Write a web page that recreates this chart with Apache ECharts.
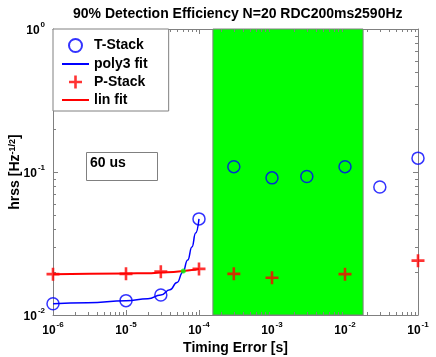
<!DOCTYPE html>
<html>
<head>
<meta charset="utf-8">
<script src="https://cdn.jsdelivr.net/npm/echarts@6/dist/echarts.min.js"></script>
<style>
  html, body { margin: 0; padding: 0; background: #fff; }
  #chart { width: 436px; height: 357px; }
</style>
</head>
<body>
<div id="chart"></div>
<script>
// timing error [s] and hrss values
const tStackX = [1e-6, 1e-5, 3e-5, 1e-4, 3e-4, 1e-3, 3e-3, 1e-2, 3e-2, 1e-1]
const tStackY = [0.0120, 0.0126, 0.0138, 0.047, 0.109, 0.091, 0.093, 0.109, 0.0785, 0.125]
const pStackX = [1e-6, 1e-5, 3e-5, 1e-4, 3e-4, 1e-3, 1e-2, 1e-1]
const pStackY = [0.0193, 0.0194, 0.0201, 0.0210, 0.0194, 0.0182, 0.0193, 0.0240]
// fit curves, sampled along the drawn lines
const polyX = [1e-6, 3e-6, 1e-5, 2e-5, 3e-5, 4e-5, 5e-5, 6e-5, 7e-5, 8e-5, 9e-5, 1e-4]
const polyY = [0.0120, 0.0122, 0.0126, 0.0130, 0.0138, 0.0150, 0.0169, 0.0199, 0.0242, 0.0299, 0.0374, 0.047]
const linX = [1e-6, 1e-5, 2e-5, 3e-5, 4.5e-5, 6.1e-5, 8e-5, 1e-4]
const linY = [0.0193, 0.0195, 0.0196, 0.0198, 0.0200, 0.0203, 0.0206, 0.0210]
// crossing of the two fits (60 us)
const crossX = [6.1e-5]
const crossY = [0.0203]
// green band
const bandX = [1.55e-4, 1.77e-2]
// axes
const xTicks = [1e-6, 1e-5, 1e-4, 1e-3, 1e-2, 1e-1]
const yTicks = [1e-2, 1e-1, 1]

const FONT = '"Liberation Sans", Arial, sans-serif'
const AX = '#808080'
const plusPath = 'path://M4,0h2v4h4v2h-4v4h-2v-4h-4v-2h4z'
const linePath = 'path://M0,0H27V2H0Z'

const pairs = (xs, ys) => xs.map((x, i) => [x, ys[i]])

// minor ticks 2..9 per decade
const minorTicks = []
for (let d = -6; d < -1; d++) {
  for (let k = 2; k <= 9; k++) minorTicks.push(['x', k * Math.pow(10, d)])
}
for (let d = -2; d < 0; d++) {
  for (let k = 2; k <= 9; k++) minorTicks.push(['y', k * Math.pow(10, d)])
}

const supLabel = v => {
  const e = Math.round(Math.log10(v))
  return '{b|10}{s|' + e + '}'
}
const richTick = {
  b: { fontSize: 12, fontWeight: 'bold', fontFamily: FONT, color: '#000', lineHeight: 16, verticalAlign: 'bottom' },
  s: { fontSize: 8, fontWeight: 'bold', fontFamily: FONT, color: '#000', verticalAlign: 'top', padding: [0, 0, 0, 1] }
}

const chart = echarts.init(document.getElementById('chart'))

const baseX = {
  type: 'log',
  logBase: 10,
  min: xTicks[0],
  max: xTicks[xTicks.length - 1],
  axisLine: { show: true, lineStyle: { color: AX, width: 1 } },
  axisTick: { show: true, inside: true, length: 5, lineStyle: { color: AX } },
  splitLine: { show: false },
  minorTick: { show: false },
  minorSplitLine: { show: false }
}
const baseY = {
  type: 'log',
  logBase: 10,
  min: yTicks[0],
  max: yTicks[yTicks.length - 1],
  axisLine: { show: true, lineStyle: { color: AX, width: 1 } },
  axisTick: { show: true, inside: true, length: 5, lineStyle: { color: AX } },
  splitLine: { show: false },
  minorTick: { show: false },
  minorSplitLine: { show: false }
}

chart.setOption({
  animation: false,
  backgroundColor: '#fff',
  title: {
    text: '90% Detection Efficiency N=20 RDC200ms2590Hz',
    left: 73,
    top: 7,
    padding: 0,
    textStyle: { fontFamily: FONT, fontSize: 14, fontWeight: 'bold', color: '#000' }
  },
  grid: { left: 53, top: 29, right: 18, bottom: 42, containLabel: false, outerBoundsMode: 'none' },
  legend: {
    left: 53,
    top: 29,
    orient: 'vertical',
    selectedMode: false,
    backgroundColor: '#fff',
    borderColor: AX,
    borderWidth: 1,
    padding: [9, 21, 4, 9],
    itemWidth: 27,
    itemHeight: 13,
    itemGap: 4,
    itemTextGap: 3,
    textStyle: { fontFamily: FONT, fontSize: 14, fontWeight: 'bold', color: '#000' },
    data: [
      { name: 'T-Stack', icon: 'circle' },
      { name: 'poly3 fit', icon: linePath },
      { name: 'P-Stack', icon: plusPath },
      { name: 'lin fit', icon: linePath }
    ]
  },
  graphic: [
    {
      type: 'rect',
      left: 86, top: 152,
      shape: { width: 71, height: 28 },
      style: { fill: '#fff', stroke: AX, lineWidth: 1 },
      z: 10
    },
    {
      type: 'text',
      left: 90, top: 156,
      style: { text: '60 us', fontFamily: FONT, fontSize: 14, fontWeight: 'bold', fill: '#000' },
      z: 11
    }
  ],
  xAxis: [
    Object.assign({}, baseX, {
      position: 'bottom',
      name: 'Timing Error [s]',
      nameLocation: 'middle',
      nameGap: 26,
      nameMoveOverlap: false,
      nameTextStyle: { fontFamily: FONT, fontSize: 14, fontWeight: 'bold', color: '#000' },
      axisLabel: { margin: 6, formatter: supLabel, rich: richTick }
    }),
    Object.assign({}, baseX, { position: 'top', axisLabel: { show: false } })
  ],
  yAxis: [
    Object.assign({}, baseY, {
      position: 'left',
      name: 'hrss [Hz{s|-1/2}]',
      nameLocation: 'middle',
      nameRotate: 90,
      nameGap: 31,
      nameMoveOverlap: false,
      nameTextStyle: {
        fontFamily: FONT, fontSize: 14, fontWeight: 'bold', color: '#000',
        rich: {
          s: { fontSize: 9, fontWeight: 'bold', fontFamily: FONT, color: '#000', verticalAlign: 'top' }
        }
      },
      axisLabel: { margin: 8, formatter: supLabel, rich: richTick }
    }),
    Object.assign({}, baseY, { position: 'right', axisLabel: { show: false } })
  ],
  series: [
    {
      name: 'band',
      type: 'line',
      data: [],
      z: 1,
      markArea: {
        silent: true,
        itemStyle: { color: '#00ff00', opacity: 1, borderColor: AX, borderWidth: 1 },
        data: [[{ xAxis: bandX[0] }, { xAxis: bandX[1] }]]
      }
    },
    {
      name: 'minor',
      type: 'custom',
      z: 3,
      silent: true,
      data: minorTicks.map(t => t[0] === 'x' ? [t[1], 0.1, 0] : [1e-3, t[1], 1]),
      renderItem(params, api) {
        const cs = params.coordSys
        const isY = api.value(2) === 1
        const p = api.coord([api.value(0), api.value(1)])
        const L = 3
        const st = { stroke: AX, lineWidth: 1 }
        if (!isY) {
          const x = Math.round(p[0]) + 0.5
          return {
            type: 'group',
            children: [
              { type: 'line', shape: { x1: x, y1: cs.y + cs.height, x2: x, y2: cs.y + cs.height - L }, style: st },
              { type: 'line', shape: { x1: x, y1: cs.y, x2: x, y2: cs.y + L }, style: st }
            ]
          }
        }
        const y = Math.round(p[1]) + 0.5
        return {
          type: 'group',
          children: [
            { type: 'line', shape: { x1: cs.x, y1: y, x2: cs.x + L, y2: y }, style: st },
            { type: 'line', shape: { x1: cs.x + cs.width, y1: y, x2: cs.x + cs.width - L, y2: y }, style: st }
          ]
        }
      }
    },
    {
      name: 'poly3 fit',
      type: 'line',
      z: 4,
      data: pairs(polyX, polyY),
      symbol: 'none',
      smooth: true,
      smoothMonotone: 'x',
      lineStyle: { color: '#0000ff', width: 1.5 },
      itemStyle: { color: '#0000ff' }
    },
    {
      name: 'lin fit',
      type: 'line',
      z: 4,
      data: pairs(linX, linY),
      symbol: 'none',
      smooth: true,
      smoothMonotone: 'x',
      lineStyle: { color: '#ff0000', width: 2 },
      itemStyle: { color: '#ff0000' }
    },
    {
      name: 'cross',
      type: 'scatter',
      z: 5,
      data: pairs(crossX, crossY),
      symbol: 'circle',
      symbolSize: 5,
      itemStyle: { color: '#00ff00' }
    },
    {
      name: 'T-Stack',
      type: 'scatter',
      z: 6,
      data: pairs(tStackX, tStackY),
      symbol: 'circle',
      symbolSize: 12,
      itemStyle: { color: 'rgba(0,0,0,0)', borderColor: '#0000ff', borderWidth: 1.5 }
    },
    {
      name: 'P-Stack',
      type: 'scatter',
      z: 6,
      data: pairs(pStackX, pStackY),
      symbol: plusPath,
      symbolSize: 13,
      itemStyle: { color: '#ff0000' }
    }
  ]
})
</script>
</body>
</html>
